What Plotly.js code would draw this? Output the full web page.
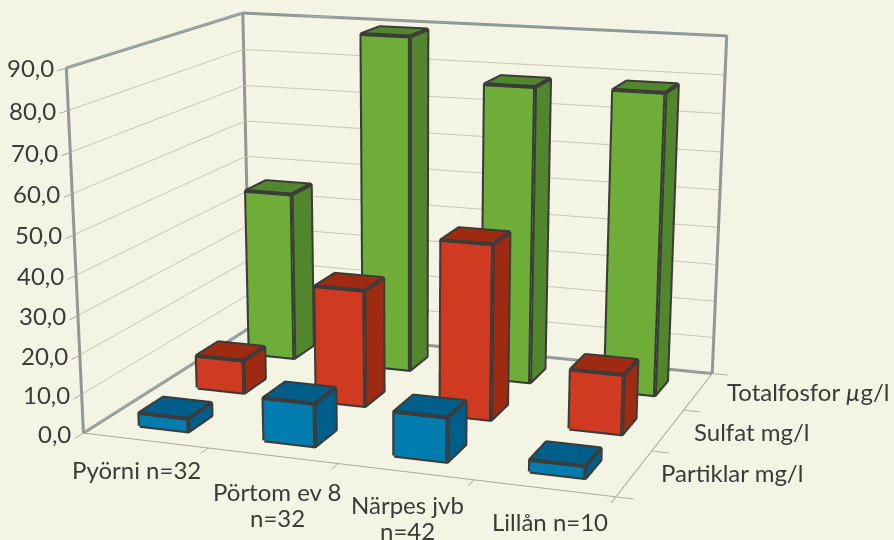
<!DOCTYPE html>
<html><head><meta charset="utf-8">
<script src="https://cdn.plot.ly/plotly-3.0.1.min.js"></script>
<style>html,body{margin:0;padding:0;width:894px;height:540px;overflow:hidden;background:#f3f4e3}
#frame{position:absolute;left:0;top:0;width:894px;height:540px;overflow:hidden}
#chart{position:absolute;left:-163px;top:-516px;width:1100px;height:1814px}</style>
</head><body><div id="frame"><div id="chart"></div></div>
<script>
const categories = [["Pyörni n=32"],["Pörtom ev 8","n=32"],["Närpes jvb","n=42"],["Lillån n=10"]];
const seriesNames = ["Partiklar mg/l","Sulfat mg/l","Totalfosfor <i>µ</i>g/l"];
const partiklar = [3.3,10.8,11,2.9];
const sulfat = [8.7,30.4,45.1,15.2];
const totalfosfor = [45.7,89.5,78.3,78.7];
const zTicks = [0,10,20,30,40,50,60,70,80,90];
const zTickLabels = ["0,0","10,0","20,0","30,0","40,0","50,0","60,0","70,0","80,0","90,0"];
const faceColors = [["#007cae","#005f8a"],["#d03a20","#9e2a12"],["#6fad39","#51862c"]];
const values = [partiklar,sulfat,totalfosfor];
const bx = 0.198, by = 0.20, cxOff = 0.51, cyOff = 0.49;
const catShiftX = [-9,5,2,6], catShiftY = [-13,-19,-16,-17], serShiftX = [25,24,27], serShiftY = [1,-2,0];
const traces = [];
const ex=[],ey=[],ez=[];
values.forEach((vals,s)=>{
  const X=[],Y=[],Z=[],I=[],J=[],K=[],FC=[];
  vals.forEach((v,c)=>{
    const x0=c+cxOff-bx,x1=c+cxOff+bx,y0=s+cyOff-by,y1=s+cyOff+by,n=X.length;
    [[x0,y0,0],[x1,y0,0],[x1,y1,0],[x0,y1,0],[x0,y0,v],[x1,y0,v],[x1,y1,v],[x0,y1,v]].forEach(p=>{X.push(p[0]);Y.push(p[1]);Z.push(p[2]);});
    const quad=(a,b,c2,d,col)=>{I.push(n+a,n+a);J.push(n+b,n+c2);K.push(n+c2,n+d);FC.push(col,col);};
    quad(0,1,5,4,faceColors[s][0]);
    quad(1,2,6,5,faceColors[s][1]);
    quad(4,5,6,7,faceColors[s][1]);
    quad(3,0,4,7,faceColors[s][1]);
    quad(2,3,7,6,faceColors[s][1]);
    const path=(pts)=>{pts.forEach(p=>{ex.push(p[0]);ey.push(p[1]);ez.push(p[2]);});ex.push(null);ey.push(null);ez.push(null);};
    path([[x0,y0,0],[x1,y0,0],[x1,y1,0],[x1,y1,v],[x0,y1,v],[x0,y0,v],[x0,y0,0]]);
    path([[x0,y0,v],[x1,y0,v],[x1,y1,v]]);
    path([[x1,y0,0],[x1,y0,v]]);
  });
  traces.push({type:'mesh3d',x:X,y:Y,z:Z,i:I,j:J,k:K,facecolor:FC,flatshading:true,name:seriesNames[s],hoverinfo:'skip',
    lighting:{ambient:1,diffuse:0,specular:0,fresnel:0,roughness:1},showscale:false});
});
traces.push({type:'scatter3d',mode:'lines',x:ex,y:ey,z:ez,line:{color:'#3b3b39',width:8},hoverinfo:'skip',showlegend:false});
const nc=categories.length, ns=seriesNames.length, zm=90;
traces.push({type:'scatter3d',mode:'lines',hoverinfo:'skip',showlegend:false,
  x:[0,0,0,0,null,0,nc,nc],y:[0,0,ns,ns,null,ns,ns,ns],z:[0,zm,zm,0,null,zm,zm,0],line:{color:'#8f9896',width:6}});
traces.push({type:'scatter3d',mode:'lines',hoverinfo:'skip',showlegend:false,
  x:[0,0,nc],y:[0,ns,ns],z:[0,0,0],line:{color:'#8f9896',width:6}});
traces.push({type:'scatter3d',mode:'lines',hoverinfo:'skip',showlegend:false,
  x:[0,nc,nc],y:[0,0,ns],z:[0,0,0],line:{color:'#a9aa9c',width:2}});
const font={family:'Lato, sans-serif',size:24,color:'#3b3b39'};
const ann=[];
categories.forEach((lines,c)=>lines.forEach((t,k)=>ann.push({x:c+.5,y:0,z:0,text:t,showarrow:false,xanchor:'center',yanchor:'top',xshift:catShiftX[c],yshift:catShiftY[c]-26*k,font})));
seriesNames.forEach((t,s)=>ann.push({x:nc,y:s+.5,z:0,text:t,showarrow:false,xanchor:'left',yanchor:'middle',xshift:serShiftX[s],yshift:serShiftY[s],font}));
zTicks.forEach((v,i)=>ann.push({x:0,y:0,z:v,text:zTickLabels[i],showarrow:false,xanchor:'right',yanchor:'middle',xshift:-10,font}));
const ax=(vals)=>({tickvals:vals,ticktext:vals.map(()=>''),showgrid:false,zeroline:false,showbackground:false,showline:false,showspikes:false,
  ticks:'outside',ticklen:14,tickwidth:2,tickcolor:'#a9aa9c',title:{text:''},showticklabels:false});
const layout={width:1100,height:1814,margin:{l:0,r:0,t:0,b:0},paper_bgcolor:'#f3f4e3',showlegend:false,
  scene:{domain:{x:[0,1],y:[0,1]},aspectmode:'manual',aspectratio:{x:1.0,y:0.75528,z:0.668},
    camera:{eye:{x:1.33965,y:-3.74418,z:0.92995},center:{x:0.01245,y:-0.16378,z:-0.26245},up:{x:-0.1005,y:0.2805,z:0.9545}},
    xaxis:Object.assign(ax([0,1,2,3,4]),{range:[0,4]}),
    yaxis:Object.assign(ax([0,1,2,3]),{range:[0,3]}),
    zaxis:Object.assign(ax(zTicks),{range:[0,90],showgrid:true,gridcolor:'#c6c8b4',gridwidth:2}),
    annotations:ann}};
Plotly.newPlot('chart',traces,layout,{displayModeBar:false});
</script></body></html>
